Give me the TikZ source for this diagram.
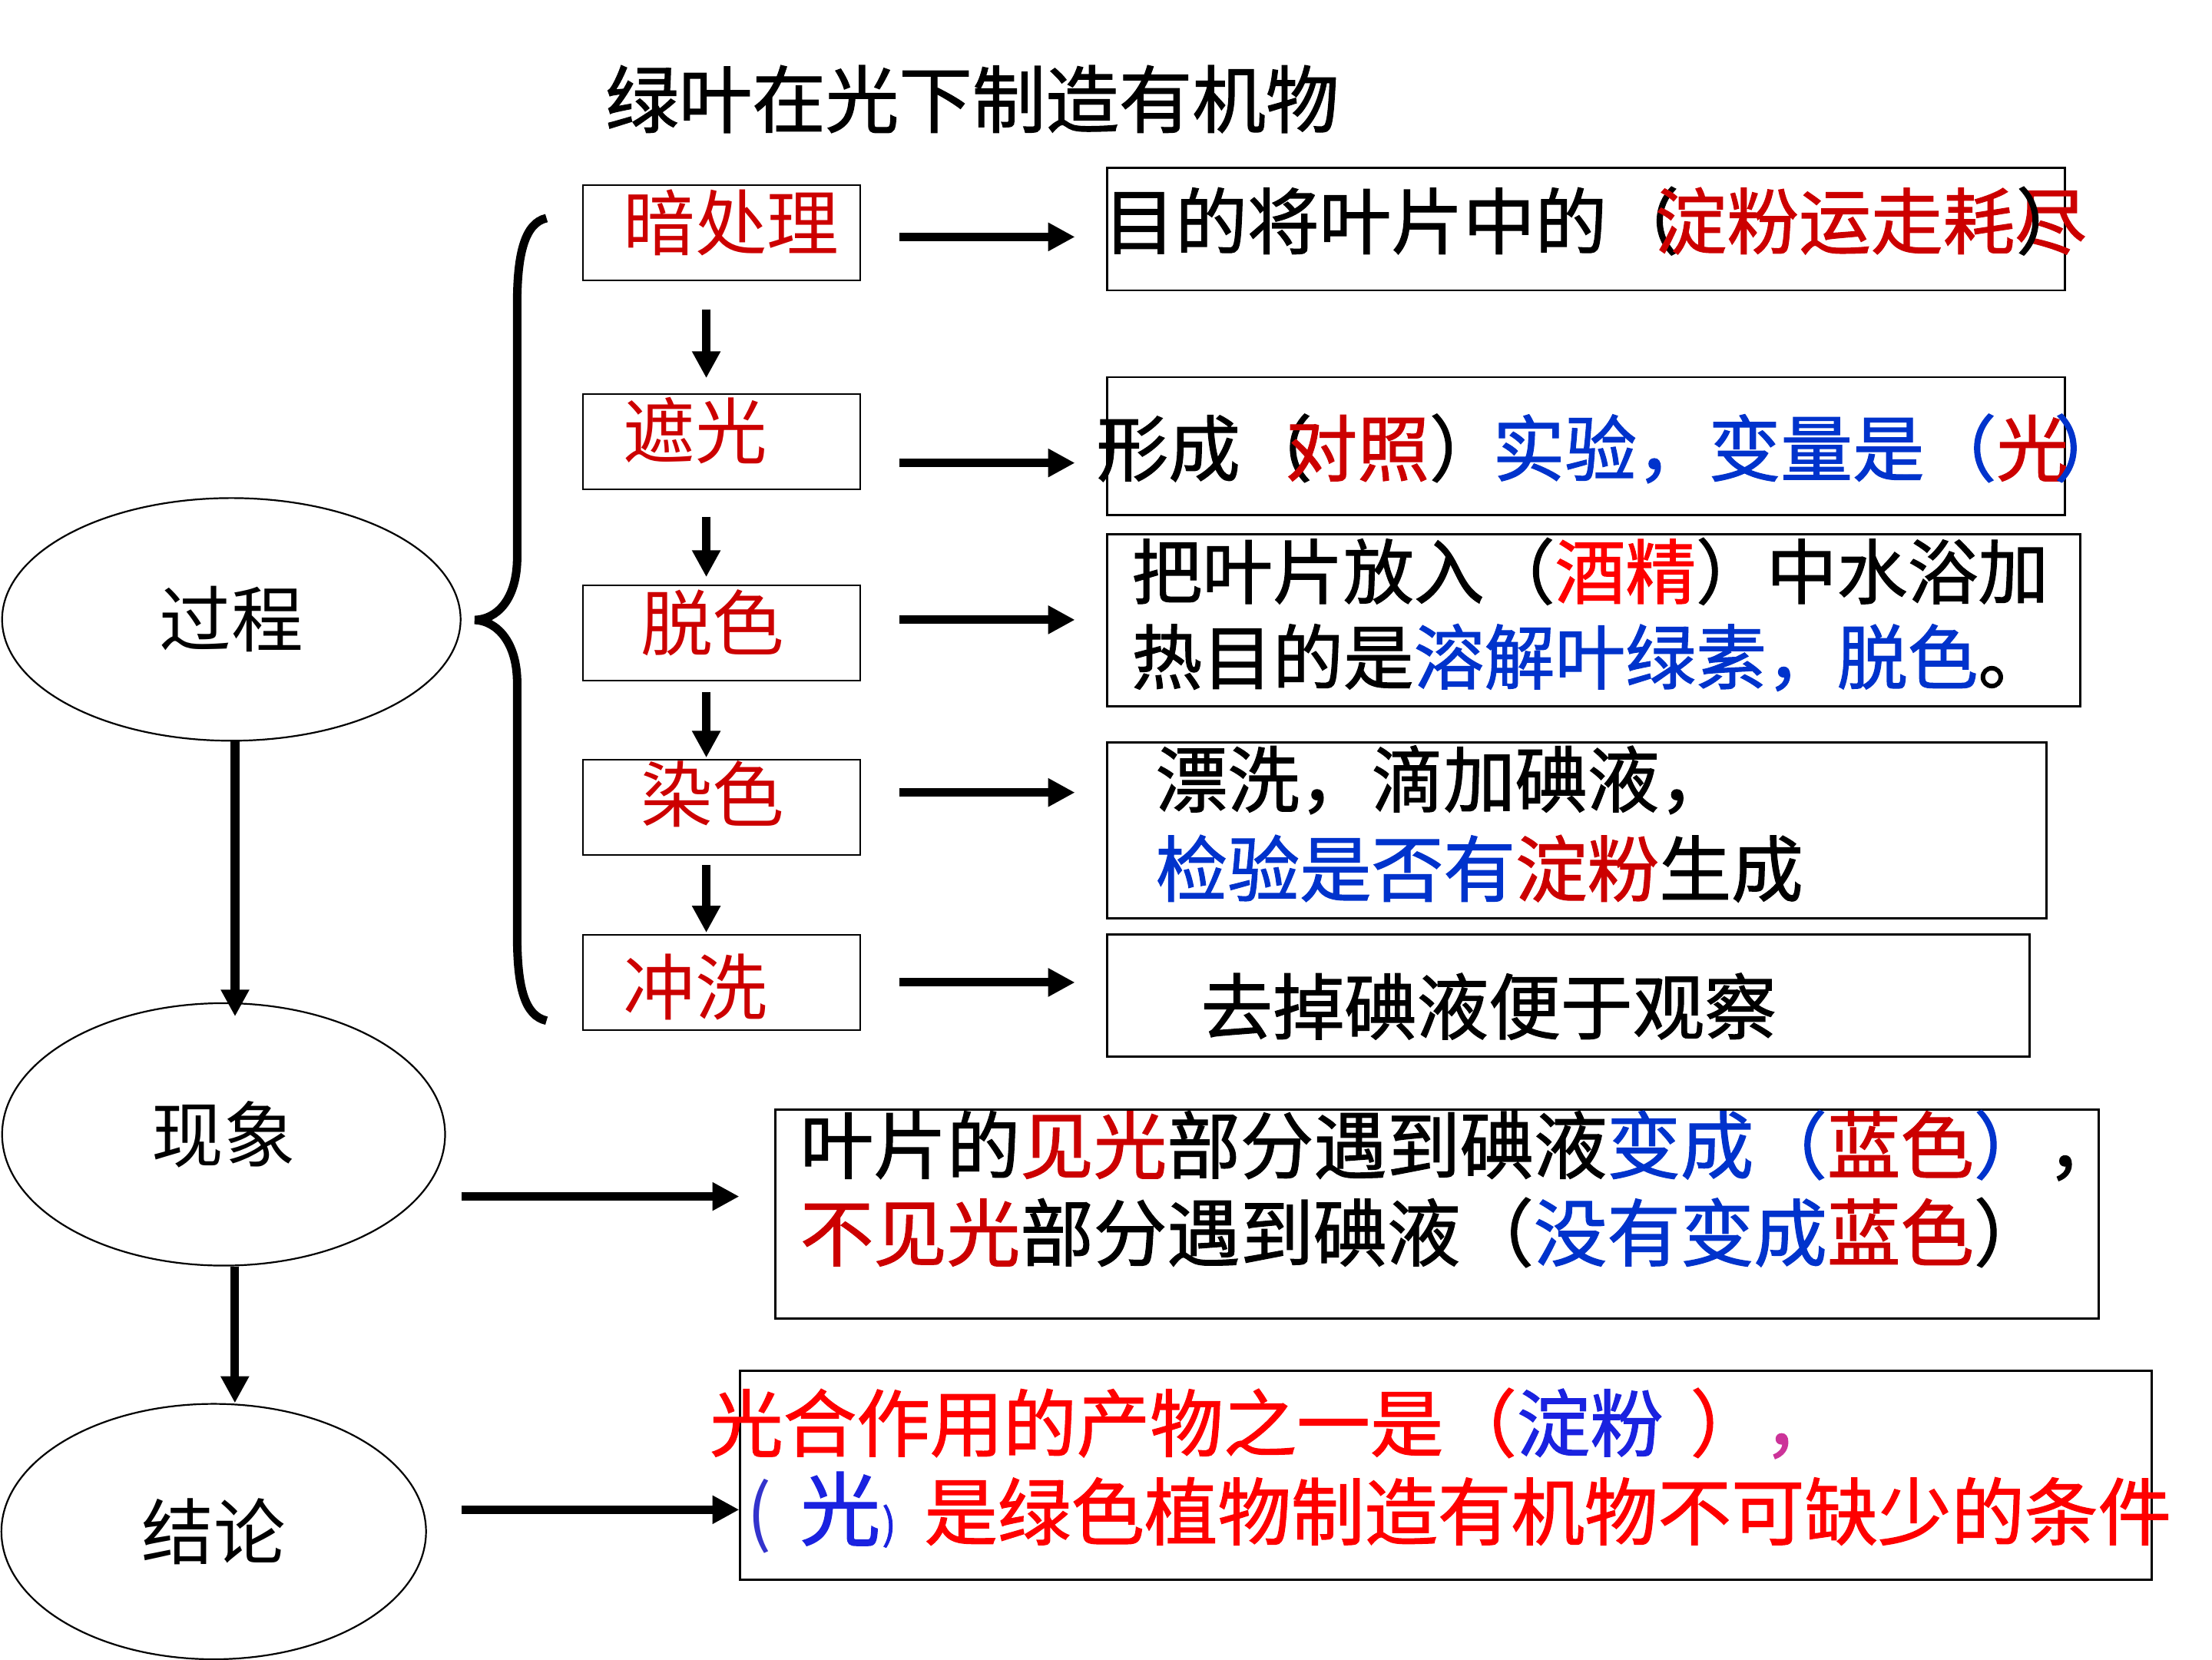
\documentclass[tikz,border=0pt]{standalone}
\usepackage{fontspec}
\setmainfont{Noto Sans CJK SC}
\newfontfamily\hvfont{Noto Sans CJK SC}[FakeBold=1.3]
\usetikzlibrary{arrows.meta,shapes.geometric}
\definecolor{dred}{HTML}{CC0000}
\definecolor{bred}{HTML}{FF0000}
\definecolor{dblue}{HTML}{0033CC}
\definecolor{pblue}{HTML}{1A22E0}
\definecolor{vblue}{HTML}{3333CC}
\definecolor{mag}{HTML}{CC3399}
\newcommand{\colR}[1]{\textcolor{dred}{#1}}
\newcommand{\colBR}[1]{\textcolor{bred}{#1}}
\newcommand{\colB}[1]{\textcolor{dblue}{#1}}
\newcommand{\colP}[1]{\textcolor{pblue}{#1}}
\newcommand{\colM}[1]{\textcolor{mag}{#1}}
\begin{document}
\begin{tikzpicture}[x=1pt,y=-1pt,
  txt/.style={inner sep=0pt, anchor=base west, font=\fontsize{51}{51}\selectfont},
  htxt/.style={inner sep=0pt, anchor=base west, font=\hvfont\fontsize{51}{51}\selectfont},
  lbox/.style={draw, line width=1.3pt, minimum width=196.4pt, minimum height=67.3pt, anchor=north west, inner sep=0pt},
  rbox/.style={draw, line width=1.6pt, anchor=north west, inner sep=0pt},
  ell/.style={ellipse, draw, line width=1.2pt, inner sep=0pt, font=\fontsize{51}{51}\selectfont},
  arr/.style={line width=6pt, -{Triangle[length=19pt,width=19pt]}},
  varr/.style={line width=6pt, -{Triangle[length=19pt,width=19pt]}}
]
\useasboundingbox[fill=white] (0,0) rectangle (1568,1176);

% title
\node[htxt, font=\hvfont\fontsize{52}{52}\selectfont] (title) at (429,90) {绿叶在光下制造有机物};

% left process boxes
\node[lbox] (l1) at (412.6,130.6) {};
\node[lbox] (l2) at (412.6,278.8) {};
\node[lbox] (l3) at (412.6,414.3) {};
\node[lbox] (l4) at (412.6,537.9) {};
\node[lbox] (l5) at (412.6,662) {};
\node[txt, text=dred] (l1t) at (441.6,177) {暗处理};
\node[txt, text=dred] (l2t) at (441.6,325) {遮光};
\node[txt, text=dred] (l3t) at (454,461) {脱色};
\node[txt, text=dred] (l4t) at (454,582) {染色};
\node[txt, text=dred] (l5t) at (441.6,719) {冲洗};

% ellipses
\node[ell, minimum width=325pt, minimum height=172pt] (gc) at (164,439) {过程};
\node[ell, minimum width=314pt, minimum height=186pt] (xx) at (158.5,804) {现象};
\node[ell, minimum width=301pt, minimum height=181pt] (jl) at (151.5,1085.5) {结论};

% brace
\draw[line width=6pt] (387.4,154.6) .. controls (372,158) and (366.6,180) .. (366.6,215)
  -- (366.6,395) .. controls (366.6,425) and (352,439) .. (336.6,439.4)
  .. controls (352,440) and (366.6,455) .. (366.6,484)
  -- (366.6,663) .. controls (366.6,700) and (372,720) .. (387.4,723.4);

% right boxes
\node[rbox, minimum width=679pt, minimum height=87pt] (r1) at (784,118) {};
\node[rbox, minimum width=679pt, minimum height=97.5pt] (r2) at (784,266.5) {};
\node[rbox, minimum width=690pt, minimum height=122pt] (r3) at (784,378) {};
\node[rbox, minimum width=666pt, minimum height=124.5pt] (r4) at (784,525.5) {};
\node[rbox, minimum width=654pt, minimum height=86.5pt] (r5) at (784,661.5) {};
\node[rbox, minimum width=938pt, minimum height=148pt] (b6) at (549,785.5) {};
\node[rbox, minimum width=1000.5pt, minimum height=148.4pt] (b7) at (524,970.6) {};

% right texts
\node[htxt] (t1) at (782,176) {目的将叶片中的（\kern-17pt\colR{淀粉运走耗尽}\kern-50pt）};
\node[htxt] (t2) at (777,337) {形成（\kern-19pt\colR{对照}）\kern-6pt\colB{实验，变量是（}\colR{光}\kern-10pt\colB{）}};
\node[htxt, font=\hvfont\fontsize{50}{50}\selectfont] (t3a) at (802,424) {把叶片放入（\colBR{酒精}）中水浴加};
\node[htxt, font=\hvfont\fontsize{50}{50}\selectfont] (t3b) at (802,484.5) {热目的是\colB{溶解叶绿素，脱色}。};
\node[htxt] (t4a) at (819,571.6) {漂洗，滴加碘液，};
\node[htxt] (t4b) at (819,635) {\colB{检验是否有}\colR{淀粉}生成};
\node[htxt] (t5) at (851,732.7) {去掉碘液便于观察};
\node[htxt, font=\hvfont\fontsize{52}{52}\selectfont] (t6a) at (567,831.3) {叶片的\colR{见光}部分遇到碘液\colB{变成（}\colR{蓝色}\colB{）}，};
\node[htxt, font=\hvfont\fontsize{52}{52}\selectfont] (t6b) at (567,893.3) {\colR{不见光}部分遇到碘液（\colB{没有变成}\colR{蓝色}）};
\node[htxt, font=\hvfont\fontsize{52}{52}\selectfont] (t7a) at (503,1028.3) {\colBR{光合作用的产物之一是（}\colP{淀粉}\kern19pt\colBR{）}\colM{，}};
\node[htxt, font=\hvfont\fontsize{52}{52}\selectfont] (t7b) at (529,1091) {\makebox[38pt][l]{\textcolor{vblue}{\fontspec{Noto Sans CJK SC}(}}\makebox[88pt][l]{\colP{\fontsize{57}{57}\selectfont 光}\kern1pt\colP{\fontsize{30}{30}\selectfont )}}\colBR{是绿色植物制造有机物不可缺少的条件}};

% down arrows between steps
\draw[varr, shorten <=20pt, shorten >=10.8pt] ([xshift=-10.8pt]l1.south) -- ([xshift=-10.8pt]l2.north);
\draw[varr, shorten <=19pt, shorten >=5.3pt] ([xshift=-10.8pt]l2.south) -- ([xshift=-10.8pt]l3.north);
\draw[varr, shorten <=7.4pt, shorten >=0.9pt] ([xshift=-10.8pt]l3.south) -- ([xshift=-10.8pt]l4.north);
\draw[varr, shorten <=6.8pt, shorten >=1pt] ([xshift=-10.8pt]l4.south) -- ([xshift=-10.8pt]l5.north);

% right arrows
\draw[arr, shorten <=27pt, shorten >=22pt] ([yshift=-3pt]l1.east) -- ([yshift=-3pt]l1.east -| r1.west);
\draw[arr, shorten <=27pt, shorten >=22pt] ([yshift=-15pt]l2.east) -- ([yshift=-15pt]l2.east -| r2.west);
\draw[arr, shorten <=27pt, shorten >=22pt] ([yshift=9.3pt]l3.east) -- ([yshift=9.3pt]l3.east -| r3.west);
\draw[arr, shorten <=27pt, shorten >=22pt] ([yshift=10.5pt]l4.east) -- ([yshift=10.5pt]l4.east -| r4.west);
\draw[arr, shorten <=27pt, shorten >=22pt] (l5.east) -- (l5.east -| r5.west);

% main vertical arrows
\draw[varr, shorten >=-10pt] ([xshift=2.6pt]gc.south) -- ([xshift=2.6pt]gc.south |- xx.north);
\draw[varr] ([xshift=8pt]xx.south) -- ([xshift=8pt]xx.south |- jl.north);

% arrows to phenomenon / conclusion boxes
\coordinate (a6) at (327,848);
\coordinate (a7) at (327,1070);
\draw[arr, shorten >=25pt] (a6) -- (a6 -| b6.west);
\draw[arr] (a7) -- (a7 -| b7.west);
\end{tikzpicture}
\end{document}
